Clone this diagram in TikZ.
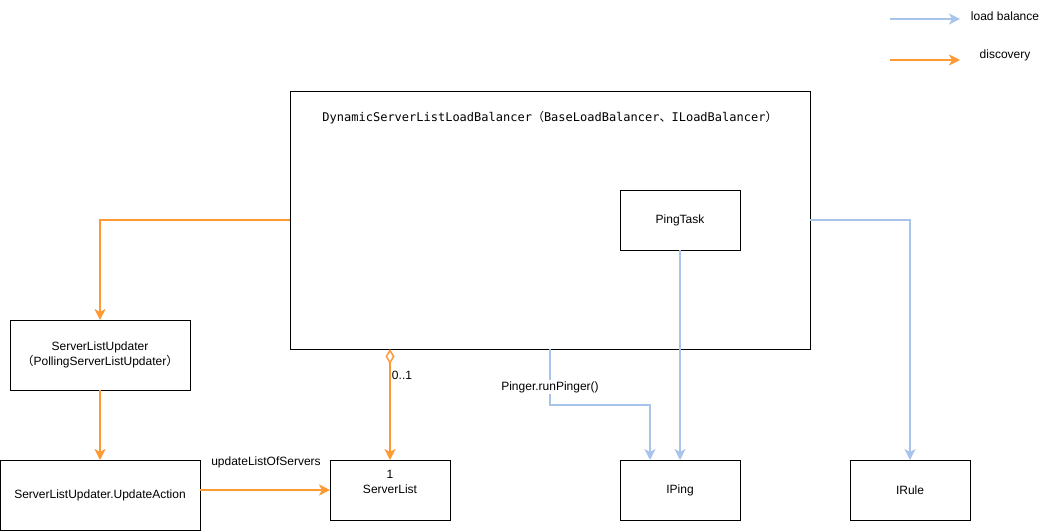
\documentclass[tikz,border=0pt]{standalone}
\usepackage{fontspec}
\setmainfont{Liberation Sans}
\newfontfamily\monof{DejaVu Sans Mono}
\newfontfamily\cjkf{Noto Sans CJK SC}
\usetikzlibrary{arrows.meta}
\definecolor{disc}{HTML}{FF9933}
\definecolor{lbal}{HTML}{A9C4EB}
\begin{document}
\begin{tikzpicture}[x=1pt,y=-1pt,
  font=\fontsize{12}{15}\selectfont,
  box/.style={draw=black, line width=1pt, inner sep=0pt, outer sep=0pt, align=center},
  txt/.style={inner sep=0pt, align=center},
  orng/.style={draw=disc, line width=2pt, -{Stealth[length=11pt,width=11pt,inset=3pt]}},
  blu/.style={draw=lbal, line width=2pt, -{Stealth[length=11pt,width=11pt,inset=3pt]}},
]
\useasboundingbox[fill=white] (0,0) rectangle (1051,531);

% boxes
\node[box, minimum width=520pt, minimum height=258pt] (dsl) at (550,220) {};
\node[txt] (dsltitle) at (550,118) {\monof DynamicServerListLoadBalancer{\cjkf （}BaseLoadBalancer{\cjkf 、}ILoadBalancer{\cjkf ）}};
\node[box, minimum width=120pt, minimum height=60pt] (ping) at (680,220) {\raisebox{-1pt}{PingTask}};
\node[box, minimum width=180pt, minimum height=70pt] (slu) at (100,355) {ServerListUpdater\\{\cjkf （}PollingServerListUpdater{\cjkf ）}};
\node[box, minimum width=200pt, minimum height=70pt] (ua) at (100,495) {\raisebox{-1pt}{ServerListUpdater.UpdateAction}};
\node[box, minimum width=120pt, minimum height=60pt] (sl) at (390,490) {};
\node[txt] (sltext) at (390,482) {1\\ServerList};
\node[box, minimum width=120pt, minimum height=60pt] (iping) at (680,490) {\raisebox{-1pt}{IPing}};
\node[box, minimum width=120pt, minimum height=60pt] (irule) at (910,490) {\raisebox{-1pt}{IRule}};

% discovery connectors
\draw[orng] (dsl.west |- 0,220) -| (slu.north);
\draw[orng] (slu.south) -- (ua.north);
\draw[orng] (ua.east |- 0,490) -- (sl.west);
\node[txt] (lbl1) at (266,462) {updateListOfServers};
\draw[draw=disc, line width=2pt, {Diamond[open,fill=white,length=15pt,width=9pt,line width=1.5pt]}-{Stealth[length=11pt,width=11pt,inset=3pt]}] (dsl.south -| 390,0) -- (sl.north);
\node[txt] (lbl2) at (402,375) {0..1};

% load balance connectors
\coordinate (bend1) at (550,405);
\draw[blu] (dsl.south -| 550,0) -- (bend1) -| (iping.north -| 650,0);
\node[txt, fill=white, inner sep=1pt] (lbl3) at (550,387) {Pinger.runPinger()};
\draw[blu] (ping.south) -- (iping.north);
\draw[blu] (dsl.east |- 0,220) -| (irule.north);

% legend
\coordinate (l1a) at (890,19);
\coordinate (l1b) at (960,19);
\coordinate (l2a) at (890,60);
\coordinate (l2b) at (960,60);
\draw[blu] (l1a) -- (l1b);
\draw[orng] (l2a) -- (l2b);
\node[txt] (leg1) at (1005,16) {load balance};
\node[txt] (leg2) at (1005,55) {discovery};
\end{tikzpicture}
\end{document}
